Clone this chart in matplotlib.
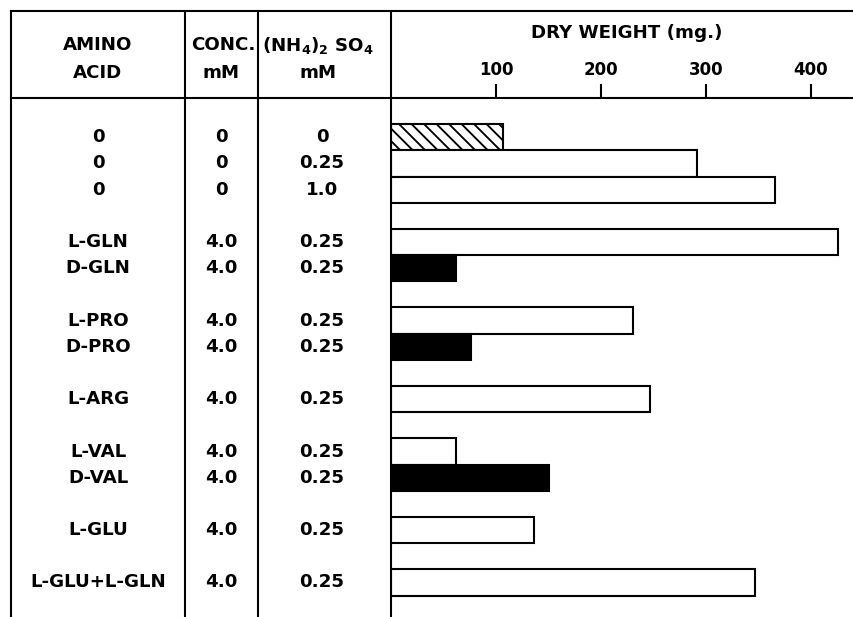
import matplotlib
matplotlib.use("Agg")
import matplotlib.pyplot as plt
from matplotlib.lines import Line2D
from matplotlib.transforms import blended_transform_factory

# ---- data ----
amino = ['0', '0', '0', 'L-GLN', 'D-GLN', 'L-PRO', 'D-PRO', 'L-ARG',
         'L-VAL', 'D-VAL', 'L-GLU', 'L-GLU+L-GLN']
conc = ['0', '0', '0', '4.0', '4.0', '4.0', '4.0', '4.0', '4.0', '4.0', '4.0', '4.0']
nh4 = ['0', '0.25', '1.0', '0.25', '0.25', '0.25', '0.25', '0.25',
       '0.25', '0.25', '0.25', '0.25']
dry_weight = [107, 291, 366, 426, 62, 230, 76, 247, 62, 150, 136, 347]
row_slot = [0, 1, 2, 4, 5, 7, 8, 10, 12, 13, 15, 17]
bar_style = ['hatch', 'open', 'open', 'open', 'solid', 'open', 'solid', 'open',
             'open', 'solid', 'open', 'open']
xticks = [100, 200, 300, 400]

# ---- figure setup ----
W, H, DPI = 853, 617, 75
plt.rcParams['font.family'] = ['DejaVu Sans']
plt.rcParams['font.weight'] = 'bold'
plt.rcParams['mathtext.fontset'] = 'dejavusans'
plt.rcParams['hatch.linewidth'] = 1.8

fig = plt.figure(figsize=(W / DPI, H / DPI), dpi=DPI)

def fx(x):
    return x / W

def fy(y):
    return 1 - y / H

LW = 2.0
FS = 17.5

ax = fig.add_axes([fx(391), 0, 1 - fx(391), fy(98)])
ax.set_xlim(0, 440)
ax.set_ylim(18.32, -1.5)

for s, v, st in zip(row_slot, dry_weight, bar_style):
    if st == 'hatch':
        ax.barh(s, v, height=1.0, left=0, color='white', edgecolor='black',
                linewidth=LW, hatch='\\\\')
    elif st == 'solid':
        ax.barh(s, v, height=1.0, left=0, color='black', edgecolor='black',
                linewidth=LW)
    else:
        ax.barh(s, v, height=1.0, left=0, color='white', edgecolor='black',
                linewidth=LW)

ax.set_yticks([])
ax.xaxis.tick_top()
ax.set_xticks(xticks)
ax.set_xticklabels([str(t) for t in xticks])
ax.tick_params(axis='x', direction='out', length=13, width=LW, pad=5,
               labelsize=16)
for lab in ax.get_xticklabels():
    lab.set_fontweight('bold')
ax.spines['right'].set_visible(False)
ax.spines['bottom'].set_visible(False)
ax.spines['top'].set_linewidth(LW)
ax.spines['left'].set_linewidth(LW)

# ---- table lines ----
def fline(x0, y0, x1, y1):
    fig.add_artist(Line2D([fx(x0), fx(x1)], [fy(y0), fy(y1)],
                          transform=fig.transFigure, color='black',
                          linewidth=LW, solid_capstyle='projecting'))

fline(11, 11, 853, 11)
fline(11, 98, 391, 98)
fline(11, 11, 11, 617)
fline(185, 11, 185, 617)
fline(258, 11, 258, 617)
fline(391, 11, 391, 98)

# ---- headers ----
def ftext(x, y, s, size=FS):
    fig.text(fx(x), fy(y), s, ha='center', va='center', fontsize=size,
             fontweight='bold')

ftext(98, 45, 'AMINO')
ftext(98, 73, 'ACID')
ftext(223, 45, 'CONC.')
ftext(221, 73, 'mM')
ftext(318, 45, r'$\mathbf{(NH_4)_2\ SO_4}$')
ftext(318, 73, 'mM')
ftext(627, 33, 'DRY WEIGHT (mg.)')

# ---- table rows ----
tr = blended_transform_factory(fig.transFigure, ax.transData)
for s, a, c, n in zip(row_slot, amino, conc, nh4):
    ax.text(fx(98), s, a, transform=tr, ha='center', va='center',
            fontsize=FS, fontweight='bold', clip_on=False)
    ax.text(fx(221), s, c, transform=tr, ha='center', va='center',
            fontsize=FS, fontweight='bold', clip_on=False)
    ax.text(fx(322), s, n, transform=tr, ha='center', va='center',
            fontsize=FS, fontweight='bold', clip_on=False)

fig.savefig('out.png', dpi=DPI)
